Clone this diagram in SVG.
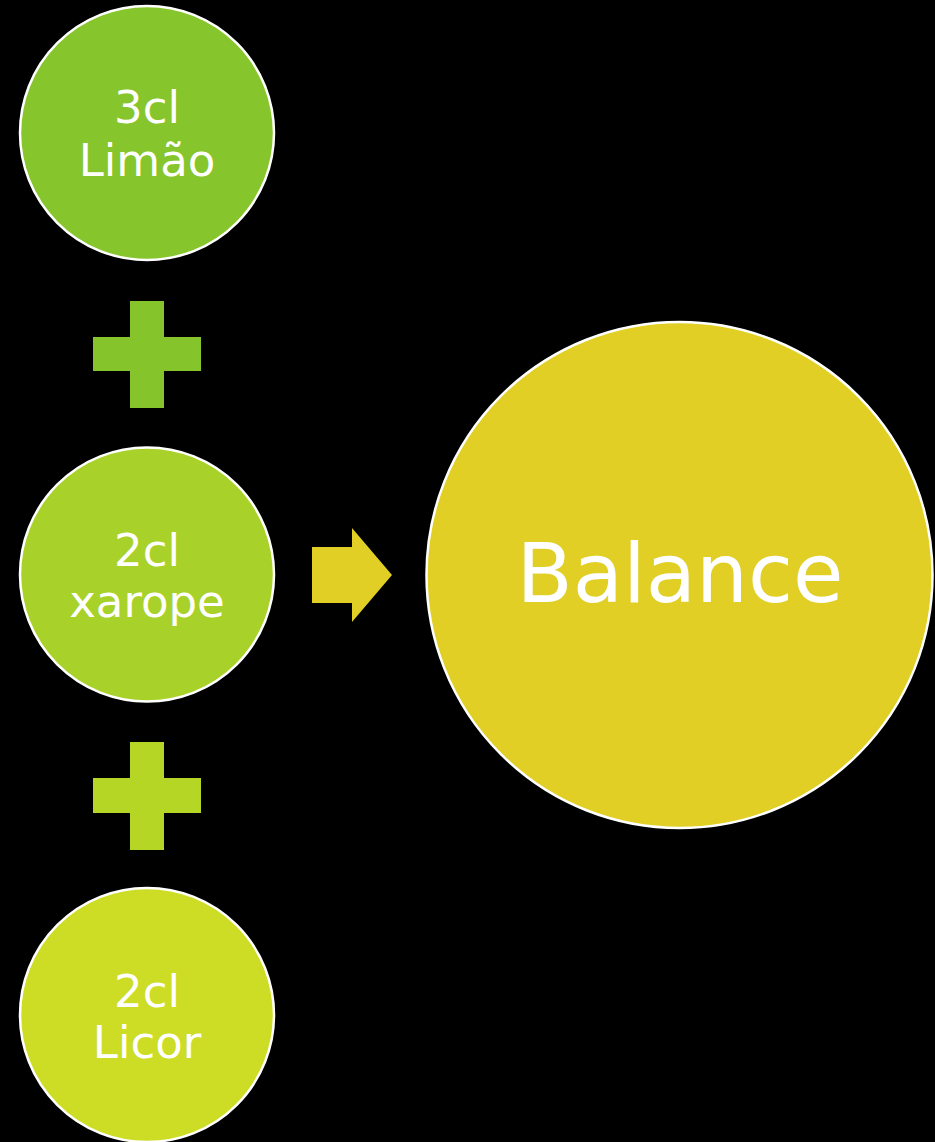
<svg xmlns="http://www.w3.org/2000/svg" width="935" height="1142" viewBox="0 0 935 1142">
<style>
.node{stroke:#ffffff;stroke-width:2.5}
.t{font-family:"DejaVu Sans","Liberation Sans",sans-serif;fill:#ffffff;text-anchor:middle}
.s{font-size:45px}
.b{font-size:82px}
</style>
<rect width="935" height="1142" fill="#000000"/>
<g id="connectors">
<path id="plus1" d="M130,301H164V337H201V371H164V408H130V371H93V337H130Z" fill="#86C42B"/>
<path id="plus2" d="M130,742H164V778H201V813H164V850H130V813H93V778H130Z" fill="#B6D626"/>
<path id="arrow" d="M312,547H352V528L392,575L352,622V603H312Z" fill="#E1CF26"/>
</g>
<g id="n1">
<circle class="node" cx="147" cy="133" r="127" fill="#86C52B"/>
<text class="t s" x="147" y="123">3cl</text>
<text class="t s" x="147" y="176">Limão</text>
</g>
<g id="n2">
<circle class="node" cx="147" cy="574.5" r="127" fill="#A8D229"/>
<text class="t s" x="147" y="566">2cl</text>
<text class="t s" x="147" y="617">xarope</text>
</g>
<g id="n3">
<circle class="node" cx="147" cy="1015" r="127" fill="#CDDC25"/>
<text class="t s" x="147" y="1007">2cl</text>
<text class="t s" x="147" y="1058">Licor</text>
</g>
<g id="n4">
<circle class="node" cx="679.5" cy="575" r="253" fill="#E1CF26"/>
<text class="t b" x="680" y="602">Balance</text>
</g>
</svg>
